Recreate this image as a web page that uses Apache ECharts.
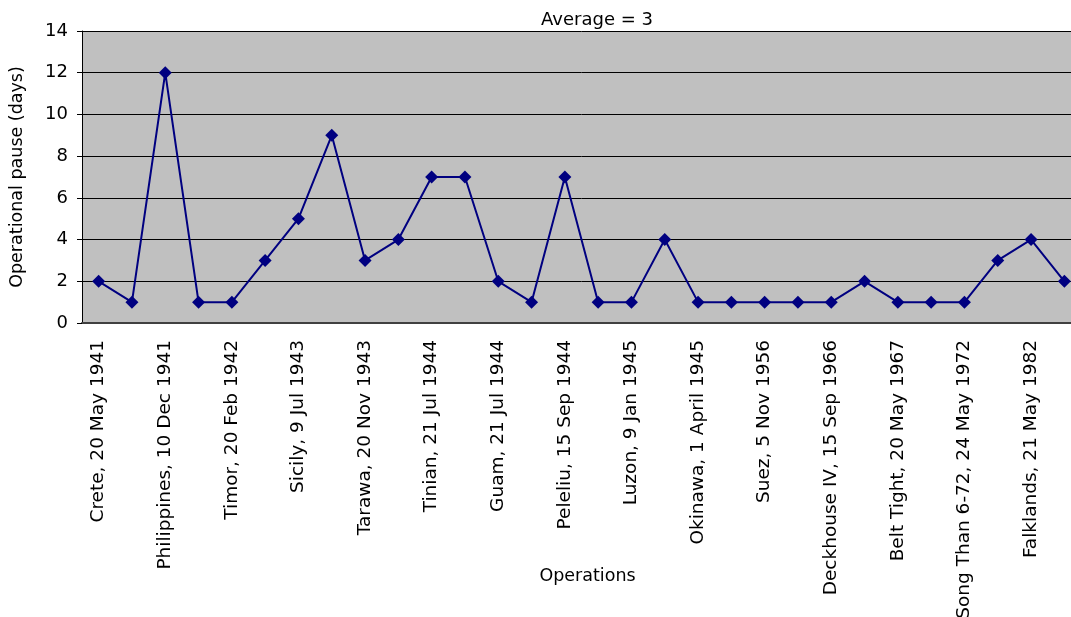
<!DOCTYPE html>
<html>
<head>
<meta charset="utf-8">
<script src="https://cdn.jsdelivr.net/npm/echarts@6/dist/echarts.min.js"></script>
<style>html,body{margin:0;padding:0;background:#fff;overflow:hidden}#c{width:1081px;height:617px}</style>
</head>
<body>
<div id="c"></div>
<script>
const categories = [
  "Crete, 20 May 1941", "Operation 2",
  "Philippines, 10 Dec 1941", "Operation 4",
  "Timor, 20 Feb 1942", "Operation 6",
  "Sicily, 9 Jul 1943", "Operation 8",
  "Tarawa, 20 Nov 1943", "Operation 10",
  "Tinian, 21 Jul 1944", "Operation 12",
  "Guam, 21 Jul 1944", "Operation 14",
  "Peleliu, 15 Sep 1944", "Operation 16",
  "Luzon, 9 Jan 1945", "Operation 18",
  "Okinawa, 1 April 1945", "Operation 20",
  "Suez, 5 Nov 1956", "Operation 22",
  "Deckhouse IV, 15 Sep 1966", "Operation 24",
  "Belt Tight, 20 May 1967", "Operation 26",
  "Song Than 6-72, 24 May 1972", "Operation 28",
  "Falklands, 21 May 1982", "Operation 30"
];
const pauseDays = [2,1,12,1,1,3,5,9,3,4,7,7,2,1,7,1,1,4,1,1,1,1,1,2,1,1,1,3,4,2];
const yTicks = { min: 0, max: 14, interval: 2 };
const titleText = "Average = 3";
const xName = "Operations";
const yName = "Operational pause (days)";

const FONT = "DejaVu Sans";
const chart = echarts.init(document.getElementById('c'));
chart.setOption({
  animation: false,
  title: {
    text: titleText, left: 592, top: 6, textAlign: 'center',
    textStyle: { fontFamily: FONT, fontSize: 18, fontWeight: 'normal', color: '#000' }
  },
  grid: { left: 82, right: 0, top: 31, height: 292, containLabel: false, outerBoundsMode: 'none',
          show: true, backgroundColor: '#C0C0C0', borderWidth: 0 },
  xAxis: {
    type: 'category', data: categories, boundaryGap: true,
    name: xName, nameLocation: 'middle', nameGap: 244, nameMoveOverlap: false,
    nameTextStyle: { fontFamily: FONT, fontSize: 17.5, color: '#000', padding: [0,0,0,12] },
    axisLine: { show: true, lineStyle: { color: '#404040', width: 2 } },
    axisTick: { show: false },
    axisLabel: { interval: 1, rotate: 90, margin: 17, fontFamily: FONT, fontSize: 18.5, color: '#000' },
    splitLine: { show: false }
  },
  yAxis: {
    type: 'value', min: yTicks.min, max: yTicks.max, interval: yTicks.interval,
    name: yName, nameLocation: 'middle', nameGap: 56, nameRotate: 90, nameMoveOverlap: false,
    nameTextStyle: { fontFamily: FONT, fontSize: 17.5, color: '#000' },
    axisLine: { show: true, lineStyle: { color: '#000', width: 1 } },
    axisTick: { show: true, length: 5, lineStyle: { color: '#000' } },
    axisLabel: { margin: 14, fontFamily: FONT, fontSize: 18, color: '#000' },
    splitLine: { show: true, lineStyle: { color: '#000', width: 1 } }
  },
  series: [{
    type: 'line', data: pauseDays,
    symbol: 'diamond', symbolSize: 13,
    lineStyle: { color: '#000080', width: 2 },
    itemStyle: { color: '#000080' }
  }]
});
</script>
</body>
</html>
